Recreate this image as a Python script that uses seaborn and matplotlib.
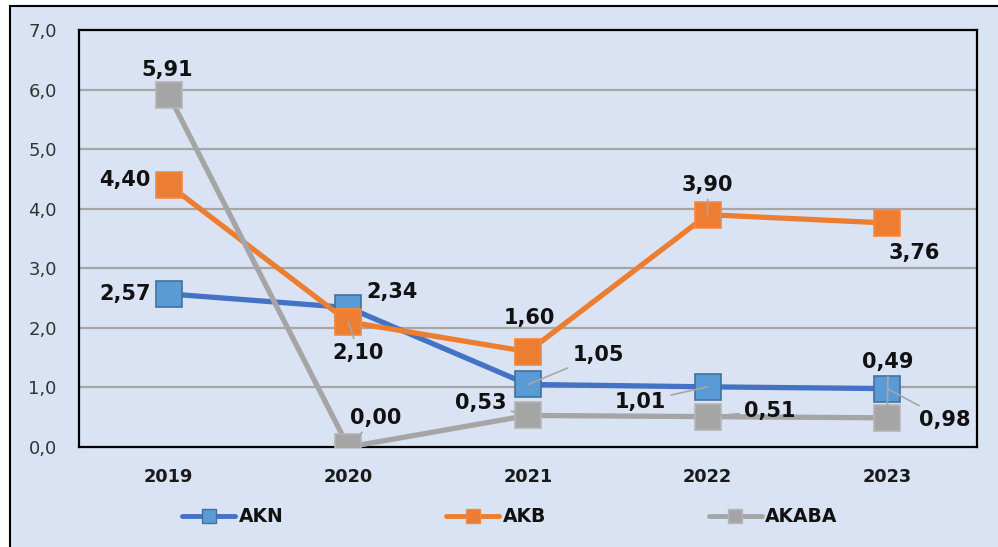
import matplotlib
matplotlib.use("Agg")
import matplotlib.pyplot as plt
from matplotlib.patches import Rectangle
from matplotlib.lines import Line2D
import seaborn as sns
import pandas as pd

years = ["2019", "2020", "2021", "2022", "2023"]
series_names = ["AKN", "AKB", "AKABA"]
akn = [2.57, 2.34, 1.05, 1.01, 0.98]
akb = [4.40, 2.10, 1.60, 3.90, 3.76]
akaba = [5.91, 0.00, 0.53, 0.51, 0.49]
y_ticks = [0, 1, 2, 3, 4, 5, 6, 7]

line_colors = {"AKN": "#4472C4", "AKB": "#ED7D31", "AKABA": "#A5A5A5"}
face_colors = {"AKN": "#5B9BD5", "AKB": "#ED7D31", "AKABA": "#A5A5A5"}
edge_colors = {"AKN": "#41719C", "AKB": "#F08A45", "AKABA": "#B5B5B5"}

# label offsets in pixels (layout)
offsets = {
    "AKN": [(-44, 0), (44, 16), (70, 29), (-67, -15), (58, -31)],
    "AKB": [(-44, 5), (10, -31), (1, 34), (0, 30), (27, -30)],
    "AKABA": [(-2, 25), (27, 29), (-47, 12), (62, 6), (1, 56)],
}
leaders = {
    "AKN": [False, False, True, True, True],
    "AKB": [False, True, False, True, False],
    "AKABA": [False, True, True, True, True],
}

values = {"AKN": akn, "AKB": akb, "AKABA": akaba}
rows = []
for s in series_names:
    for i, (yr, v) in enumerate(zip(years, values[s])):
        rows.append({"series": s, "year": yr, "pos": i, "value": v})
df = pd.DataFrame(rows)

sns.set_style("white")
plt.rcParams["font.family"] = ["DejaVu Sans"]

fig = plt.figure(figsize=(9.98, 5.47), dpi=100)
fig.patch.set_facecolor("white")
bg = "#DAE3F3"
rect = Rectangle((10 / 998, -0.01), 1.0, 1 - 6 / 547 + 0.01,
                 transform=fig.transFigure, facecolor=bg,
                 edgecolor="black", linewidth=1.5, zorder=-10)
fig.patches.append(rect)

ax = fig.add_axes([79 / 998, 1 - 447 / 547, (977 - 79) / 998, (447 - 30) / 547])
ax.set_facecolor(bg)
ax.set_zorder(1)

for k, s in enumerate(series_names):
    sub = df[df["series"] == s]
    sns.lineplot(data=sub, x="pos", y="value", ax=ax, color=line_colors[s],
                 linewidth=3.8, marker="s", markersize=19,
                 markerfacecolor=face_colors[s], markeredgecolor=edge_colors[s],
                 markeredgewidth=1.2, legend=False, zorder=3 + k)

ax.set_xlim(-0.5, 4.5)
ax.set_ylim(0, 7)
ax.set_yticks(y_ticks)
ax.set_yticklabels([f"{t:.1f}".replace(".", ",") for t in y_ticks],
                   fontsize=13, color="#333333")
ax.set_xticks(range(len(years)))
ax.set_xticklabels(years, fontsize=12.8, fontweight="bold", color="#1a1a1a")
ax.tick_params(axis="y", length=0, pad=16)
ax.tick_params(axis="x", length=0, pad=15)
ax.set_xlabel("")
ax.set_ylabel("")
for yv in y_ticks[1:-1]:
    ax.axhline(yv, color="#A6A6A6", linewidth=1.6, zorder=1)
for sp in ax.spines.values():
    sp.set_visible(True)
    sp.set_color("black")
    sp.set_linewidth(1.6)

for s in series_names:
    for i, v in enumerate(values[s]):
        dx, dy = offsets[s][i]
        txt = f"{v:.2f}".replace(".", ",")
        kw = {}
        if leaders[s][i]:
            kw["arrowprops"] = dict(arrowstyle="-", color="#A6A6A6", lw=1.2,
                                    shrinkA=1, shrinkB=0)
        ax.annotate(txt, xy=(i, v), xytext=(dx, dy), textcoords="offset pixels",
                    ha="center", va="center", fontsize=15, fontweight="bold",
                    color="#111111", zorder=10, annotation_clip=False, **kw)

handles = [Line2D([0], [0], color=line_colors[s], linewidth=3.5, marker="s",
                  markersize=10, markerfacecolor=face_colors[s],
                  markeredgecolor=edge_colors[s]) for s in series_names]
leg = fig.legend(handles, series_names, loc="center", bbox_to_anchor=(510 / 998, 1 - 517 / 547),
                 ncol=3, frameon=False, handlelength=2.8, handletextpad=0.2,
                 columnspacing=8.7, prop={"size": 13.5, "weight": "bold"})
for t in leg.get_texts():
    t.set_color("#111111")

fig.savefig("out.png", dpi=100, facecolor=fig.get_facecolor())
